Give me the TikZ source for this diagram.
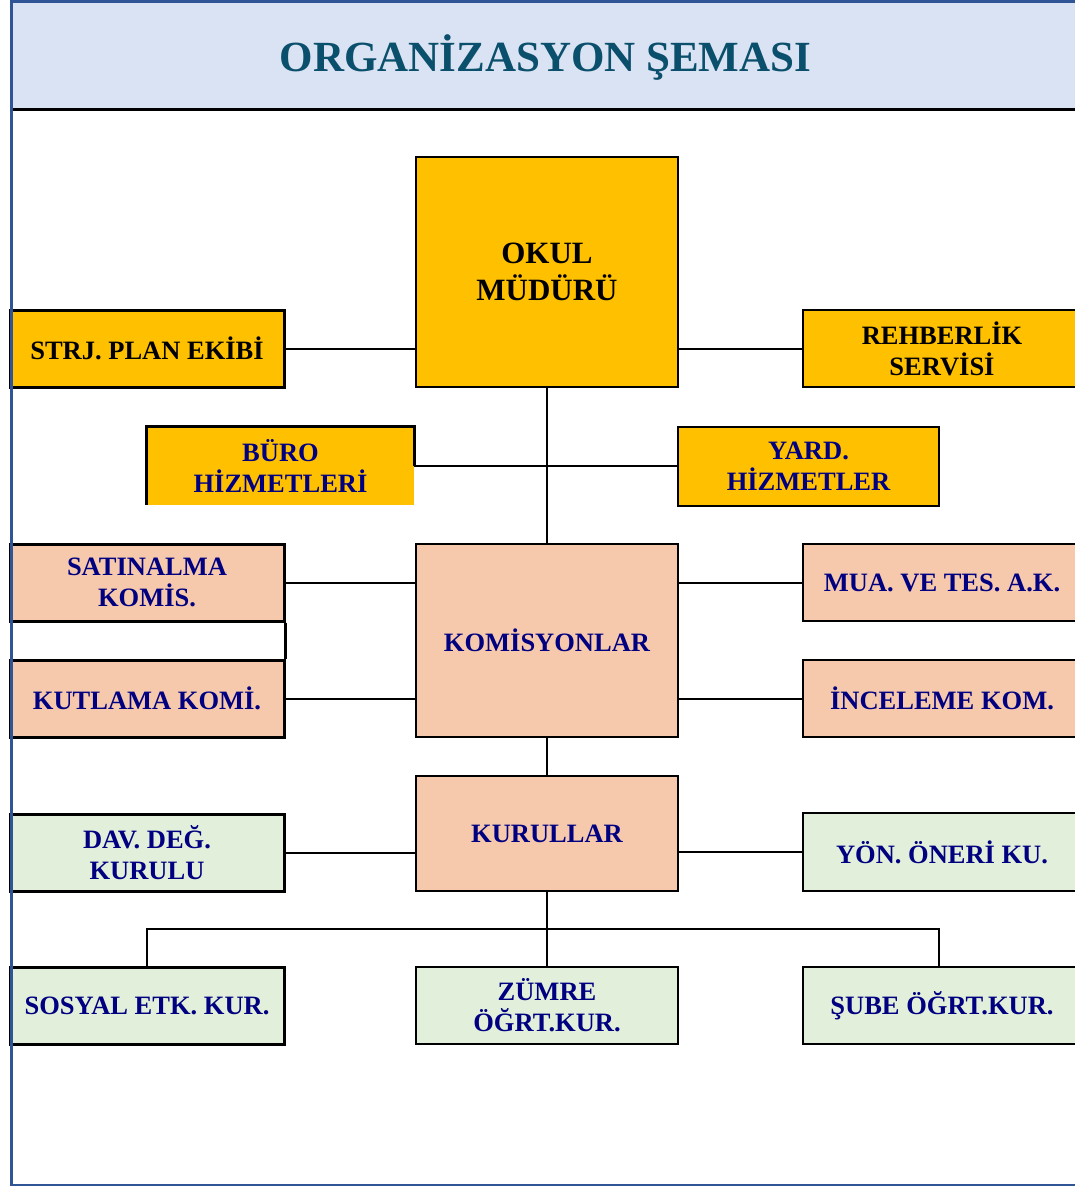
\documentclass[tikz,border=0pt]{standalone}
\usepackage{fontspec}
\setmainfont{Liberation Serif}
\definecolor{frameblue}{RGB}{47,85,151}
\definecolor{titleband}{RGB}{218,227,243}
\definecolor{titletxt}{RGB}{10,79,107}
\definecolor{goldfill}{RGB}{255,192,0}
\definecolor{peachfill}{RGB}{246,201,173}
\definecolor{greenfill}{RGB}{226,239,218}
\definecolor{navytxt}{RGB}{0,0,128}
\begin{document}
\begin{tikzpicture}[x=1pt,y=-1pt,
  orgbox/.style={inner sep=0pt, align=center, text=navytxt,
    font=\fontsize{26.5}{31}\selectfont\bfseries},
  goldbox/.style={fill=goldfill},
  peachbox/.style={fill=peachfill},
  greenbox/.style={fill=greenfill},
  thickborder/.style={draw=black, line width=3pt},
  thinborder/.style={draw=black, line width=2pt},
  leftbox/.style={minimum width=274pt, minimum height=77pt},
  rightbox/.style={minimum width=278pt, minimum height=77pt},
  midbox/.style={minimum width=262pt},
  conn/.style={draw=black, line width=2pt}]
\useasboundingbox (0,0) rectangle (1075,1186);

% title band
\fill[titleband] (13,2.7) rectangle (1080,108.5);
\draw[line width=2.5pt] (13,109.5) -- (1080,109.5);
\node[anchor=base, inner sep=0pt, text=titletxt,
  font=\fontsize{43}{50}\selectfont\bfseries] (title) at (545.5,71) {ORGANİZASYON ŞEMASI};

% top row
\node[orgbox, goldbox, thinborder, midbox, minimum height=230pt, text=black,
  font=\fontsize{31}{37}\selectfont\bfseries] (okul) at (547,272) {OKUL\\MÜDÜRÜ};
\node[orgbox, goldbox, thickborder, leftbox, text=black] (strj) at (147,348.5) {STRJ. PLAN EKİBİ};
\node[orgbox, goldbox, thinborder, rightbox, text=black] (rehber) at (942,348.5) {REHBERLİK\\SERVİSİ};

% service row
\node[orgbox, goldbox, minimum width=267pt, minimum height=78pt] (buro) at (280.5,466) {BÜRO\\HİZMETLERİ};
\draw[line width=3pt] (buro.south west) -- (buro.north west) -- (buro.north east) -- (buro.east);
\node[orgbox, goldbox, thinborder, minimum width=261pt, minimum height=79pt] (yard) at (808.5,466.5) {YARD.\\HİZMETLER};

% commissions
\node[orgbox, peachbox, thickborder, leftbox] (satin) at (147,582.5) {SATINALMA\\KOMİS.};
\node[orgbox, peachbox, thickborder, leftbox] (kutlama) at (147,698.5) {KUTLAMA KOMİ.};
\node[orgbox, peachbox, thinborder, midbox, minimum height=193pt] (komis) at (547,640.5) {KOMİSYONLAR};
\node[orgbox, peachbox, thinborder, rightbox] (mua) at (942,582.5) {MUA. VE TES. A.K.};
\node[orgbox, peachbox, thinborder, rightbox] (incele) at (942,698.5) {İNCELEME KOM.};

% boards
\node[orgbox, peachbox, thinborder, midbox, minimum height=115pt] (kurul) at (547,833.5) {KURULLAR};
\node[orgbox, greenbox, thickborder, leftbox] (dav) at (147,852.5) {DAV. DEĞ.\\KURULU};
\node[orgbox, greenbox, thinborder, rightbox, minimum height=78pt] (yon) at (942,852) {YÖN. ÖNERİ KU.};

% bottom row
\node[orgbox, greenbox, thickborder, leftbox] (sosyal) at (147,1005.5) {SOSYAL ETK. KUR.};
\node[orgbox, greenbox, thinborder, midbox, minimum height=77pt] (zumre) at (547,1005.5) {ZÜMRE\\ÖĞRT.KUR.};
\node[orgbox, greenbox, thinborder, rightbox] (sube) at (942,1005.5) {ŞUBE ÖĞRT.KUR.};

% connectors
\draw[conn] (okul.south) -- (komis.north);
\draw[conn] (buro.east) -- (buro.east -| yard.west);
\draw[conn] (strj.east) -- (strj.east -| okul.west);
\draw[conn] (okul.east |- rehber.west) -- (rehber.west);
\draw[conn] (satin.east) -- (satin.east -| komis.west);
\draw[conn] (kutlama.east) -- (kutlama.east -| komis.west);
\draw[line width=3pt] (satin.south east) -- (kutlama.north east);
\draw[conn] (komis.east |- mua.west) -- (mua.west);
\draw[conn] (komis.east |- incele.west) -- (incele.west);
\draw[conn] (komis.south) -- (kurul.north);
\draw[conn] (dav.east) -- (dav.east -| kurul.west);
\draw[conn] (kurul.east |- yon.west) -- (yon.west);
\draw[conn] (kurul.south) -- (zumre.north);
\coordinate (bus) at (547,929);
\draw[conn] (sosyal.north) -- (sosyal.north |- bus) -- ([xshift=-3pt]sube.north |- bus) -- ([xshift=-3pt]sube.north);

% frame
\draw[frameblue, line width=3.2pt] (11.5,0) -- (11.5,1186);
\draw[frameblue, line width=2.7pt] (10,1.35) -- (1080,1.35);
\draw[frameblue, line width=2.5pt] (10,1185) -- (1080,1185);
\end{tikzpicture}
\end{document}
